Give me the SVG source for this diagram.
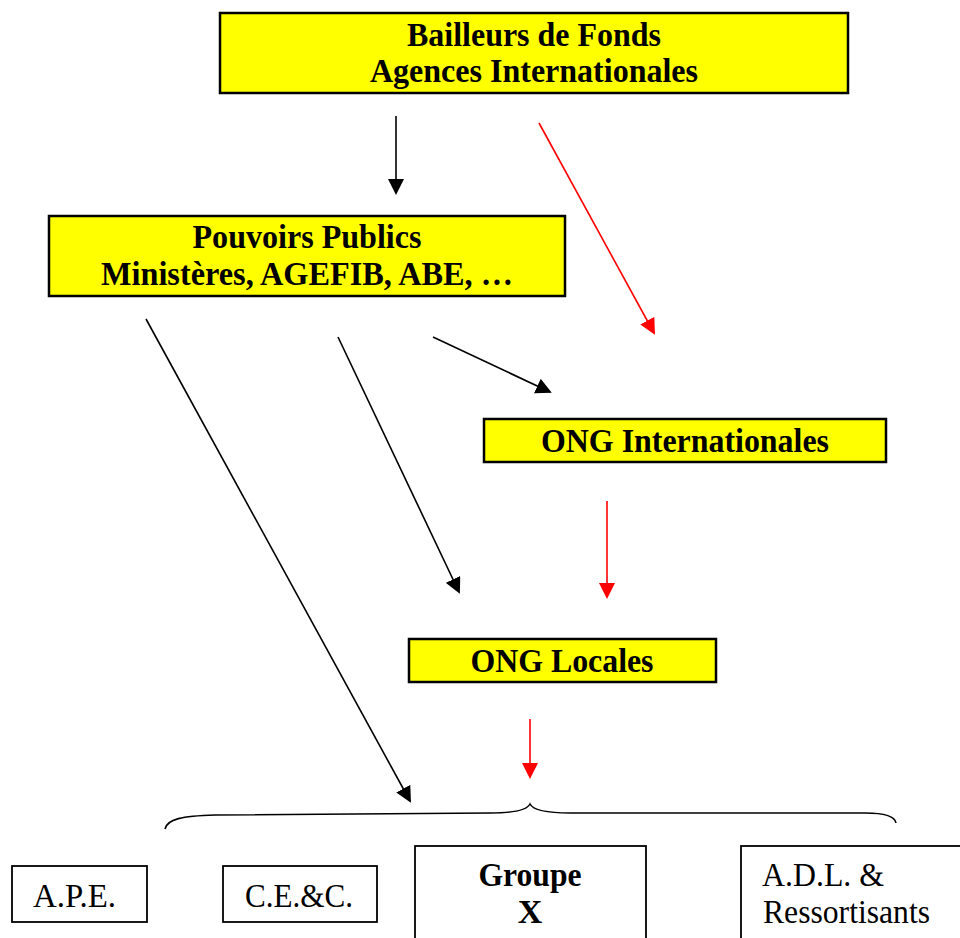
<svg xmlns="http://www.w3.org/2000/svg" width="960" height="938" viewBox="0 0 960 938">
<style>
.ybox{fill:#ffff00;stroke:#000;stroke-width:2.5}
.wbox{fill:#fff;stroke:#000;stroke-width:1.8}
.bt{font-family:"Liberation Serif","Times New Roman",serif;font-weight:bold;font-size:34px;fill:#000;text-anchor:middle}
.rt{font-family:"Liberation Serif","Times New Roman",serif;font-size:34px;fill:#000}
.blk{stroke:#000;stroke-width:1.6;fill:none}
.red{stroke:#ff0000;stroke-width:1.6;fill:none}
</style>
<defs>
<marker id="ab" markerUnits="userSpaceOnUse" markerWidth="16" markerHeight="16" viewBox="0 0 16 16" refX="14" refY="8" orient="auto">
<path d="M0,0 L16,8 L0,16 z" fill="#000"/>
</marker>
<marker id="ar" markerUnits="userSpaceOnUse" markerWidth="16" markerHeight="16" viewBox="0 0 16 16" refX="14" refY="8" orient="auto">
<path d="M0,0 L16,8 L0,16 z" fill="#ff0000"/>
</marker>
</defs>
<rect width="960" height="938" fill="#fff"/>
<g id="bailleurs">
<rect class="ybox" x="220" y="13" width="628" height="80"/>
<text class="bt" x="534" y="46" textLength="254" lengthAdjust="spacingAndGlyphs">Bailleurs de Fonds</text>
<text class="bt" x="534" y="82" textLength="328" lengthAdjust="spacingAndGlyphs">Agences Internationales</text>
</g>
<g id="pouvoirs">
<rect class="ybox" x="49" y="216" width="516" height="80"/>
<text class="bt" x="307" y="248" textLength="229" lengthAdjust="spacingAndGlyphs">Pouvoirs Publics</text>
<text class="bt" x="307" y="285" textLength="412" lengthAdjust="spacingAndGlyphs">Ministères, AGEFIB, ABE, …</text>
</g>
<g id="ong-int">
<rect class="ybox" x="484" y="419" width="402" height="43"/>
<text class="bt" x="685" y="452" textLength="288" lengthAdjust="spacingAndGlyphs">ONG Internationales</text>
</g>
<g id="ong-loc">
<rect class="ybox" x="409" y="639" width="307" height="43"/>
<text class="bt" x="562" y="672" textLength="183" lengthAdjust="spacingAndGlyphs">ONG Locales</text>
</g>
<g id="ape">
<rect class="wbox" x="12" y="866" width="135" height="56"/>
<text class="rt" x="33" y="907" textLength="83" lengthAdjust="spacingAndGlyphs">A.P.E.</text>
</g>
<g id="cec">
<rect class="wbox" x="223" y="866" width="154" height="56"/>
<text class="rt" x="245" y="907" textLength="108" lengthAdjust="spacingAndGlyphs">C.E.&amp;C.</text>
</g>
<g id="groupe">
<rect class="wbox" x="415" y="846" width="231" height="100"/>
<text class="bt" x="530" y="886" textLength="103" lengthAdjust="spacingAndGlyphs">Groupe</text>
<text class="bt" x="530" y="923">X</text>
</g>
<g id="adl">
<rect class="wbox" x="741" y="846" width="230" height="100"/>
<text class="rt" x="762" y="886" textLength="122" lengthAdjust="spacingAndGlyphs">A.D.L. &amp;</text>
<text class="rt" x="763" y="923" textLength="167" lengthAdjust="spacingAndGlyphs">Ressortisants</text>
</g>
<g id="connectors">
<line class="blk" x1="396" y1="116" x2="396" y2="193" marker-end="url(#ab)"/>
<line class="red" x1="539" y1="123" x2="654" y2="333" marker-end="url(#ar)"/>
<line class="blk" x1="433" y1="337" x2="550" y2="392" marker-end="url(#ab)"/>
<line class="blk" x1="338" y1="337" x2="459" y2="592" marker-end="url(#ab)"/>
<line class="blk" x1="146" y1="319" x2="410" y2="801" marker-end="url(#ab)"/>
<line class="red" x1="607" y1="501" x2="607" y2="597" marker-end="url(#ar)"/>
<line class="red" x1="530" y1="719" x2="530" y2="777" marker-end="url(#ar)"/>
<path class="blk" stroke-width="2" d="M165,829 C167,819 182,816 215,815 L490,813 C515,813 527,810 530,804 C533,810 545,813 570,813 L865,813 C885,813 895,816 896,823"/>
</g>
</svg>
